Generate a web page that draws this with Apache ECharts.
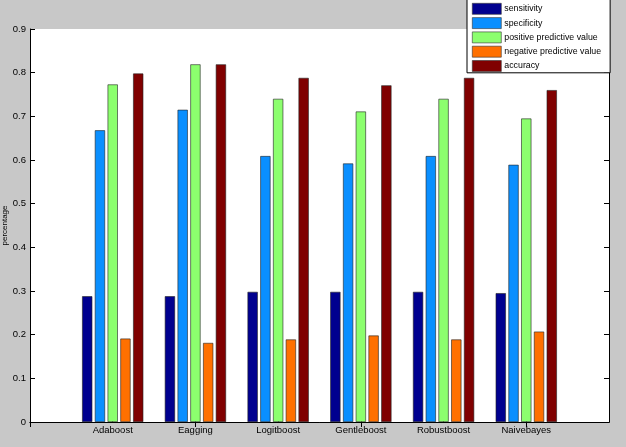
<!DOCTYPE html>
<html>
<head>
<meta charset="utf-8">
<script src="https://cdn.jsdelivr.net/npm/echarts@6/dist/echarts.min.js"></script>
<style>
  html, body { margin: 0; padding: 0; background: #c8c8c8; }
  #chart { width: 626px; height: 447px; }
</style>
</head>
<body>
<div id="chart"></div>
<script>
// padded with '' at both ends so the groups sit at 1..6 on a 0..7 axis
const methods = ['', 'Adaboost', 'Eagging', 'Logitboost', 'Gentleboost', 'Robustboost', 'Naivebayes', ''];
const yTicks = [0, 0.1, 0.2, 0.3, 0.4, 0.5, 0.6, 0.7, 0.8, 0.9];

const sensitivity = ['-', 0.288, 0.288, 0.298, 0.298, 0.298, 0.295, '-'];
const specificity = ['-', 0.668, 0.715, 0.609, 0.592, 0.609, 0.589, '-'];
const posPredictive = ['-', 0.773, 0.819, 0.740, 0.711, 0.740, 0.695, '-'];
const negPredictive = ['-', 0.191, 0.181, 0.189, 0.198, 0.189, 0.207, '-'];
const accuracy = ['-', 0.798, 0.819, 0.788, 0.771, 0.788, 0.760, '-'];

const seriesNames = ['sensitivity', 'specificity', 'positive predictive value', 'negative predictive value', 'accuracy'];
const seriesColors = ['#00008f', '#0a8fff', '#8cff6e', '#ff7000', '#800000'];
const seriesData = [sensitivity, specificity, posPredictive, negPredictive, accuracy];

const chart = echarts.init(document.getElementById('chart'));

const font = 'Liberation Sans, Arial, sans-serif';

const option = {
  backgroundColor: '#c8c8c8',
  animation: false,
  textStyle: { fontFamily: font },
  grid: {
    left: 30, right: 17, top: 29, bottom: 25,
    outerBoundsMode: 'none',
    containLabel: false,
    show: true, backgroundColor: '#fff', borderWidth: 0
  },
  legend: {
    orient: 'vertical',
    left: 467,
    top: -2,
    backgroundColor: '#fff',
    borderColor: '#000',
    borderWidth: 1,
    borderRadius: 0,
    padding: [5, 9, 1, 5],
    itemWidth: 29,
    itemHeight: 11,
    itemGap: 2.7,
    icon: 'rect',
    itemStyle: { borderWidth: 0.6, borderColor: '#333' },
    textStyle: { fontSize: 8.8, lineHeight: 11, color: '#000', fontFamily: font, padding: [0, 0, 0, -2] },
    data: seriesNames
  },
  xAxis: [
    {
      type: 'category',
      data: methods,
      boundaryGap: false,
      axisLine: { lineStyle: { color: '#000', width: 1 } },
      axisTick: { inside: true, length: 5, lineStyle: { color: '#000' } },
      axisLabel: { color: '#000', fontSize: 9.5, margin: 3, interval: 0 },
      splitLine: { show: false }
    },
    {
      type: 'category',
      position: 'top',
      data: methods,
      boundaryGap: false,
      axisLine: { lineStyle: { color: '#000', width: 1 } },
      axisTick: { inside: true, length: 5, lineStyle: { color: '#000' } },
      axisLabel: { show: false },
      splitLine: { show: false }
    }
  ],
  yAxis: [
    {
      type: 'value',
      min: yTicks[0],
      max: yTicks[yTicks.length - 1],
      interval: 0.1,
      name: 'percentage',
      nameLocation: 'middle',
      nameGap: 21,
      nameMoveOverlap: false,
      nameTextStyle: { fontSize: 8, color: '#000' },
      axisLine: { show: true, lineStyle: { color: '#000', width: 1 } },
      axisTick: { show: true, inside: true, length: 5, lineStyle: { color: '#000' } },
      axisLabel: { color: '#000', fontSize: 9.5, margin: 4 },
      splitLine: { show: false }
    },
    {
      type: 'value',
      position: 'right',
      min: yTicks[0],
      max: yTicks[yTicks.length - 1],
      interval: 0.1,
      axisLine: { show: true, lineStyle: { color: '#000', width: 1 } },
      axisTick: { show: true, inside: true, length: 5, lineStyle: { color: '#000' } },
      axisLabel: { show: false },
      splitLine: { show: false }
    }
  ],
  series: seriesNames.map((name, i) => ({
    name: name,
    type: 'bar',
    xAxisIndex: 0,
    yAxisIndex: 0,
    barWidth: 10.2,
    barGap: '25%',
    itemStyle: { color: seriesColors[i], borderColor: '#222', borderWidth: 0.6 },
    data: seriesData[i]
  }))
};

chart.setOption(option);
</script>
</body>
</html>
